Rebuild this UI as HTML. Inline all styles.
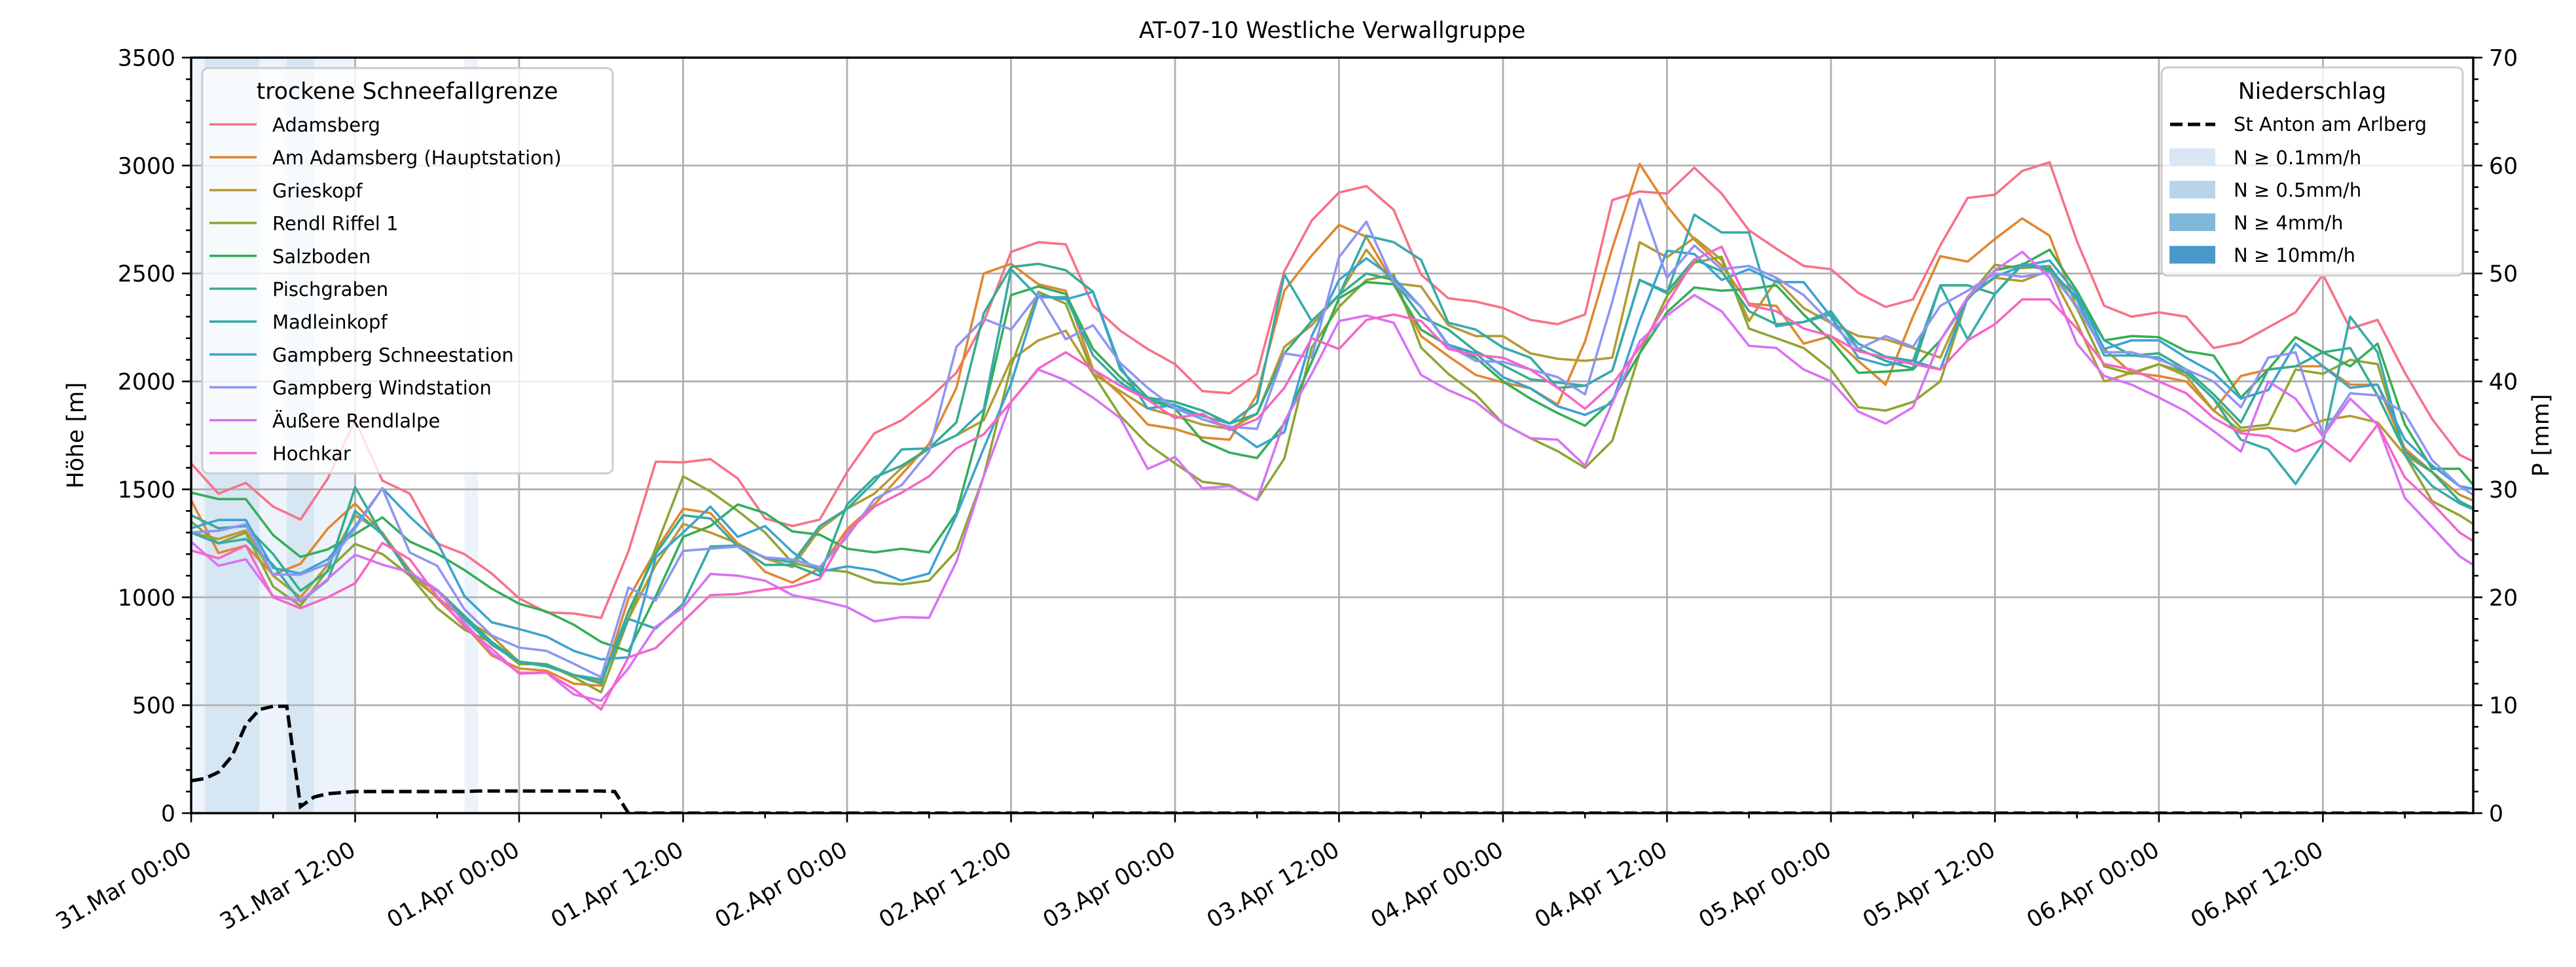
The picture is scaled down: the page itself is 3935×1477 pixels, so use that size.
<!DOCTYPE html>
<html><head><meta charset="utf-8"><title>AT-07-10 Westliche Verwallgruppe</title>
<style>html,body{margin:0;padding:0;background:#fff}svg{display:block;font-family:"DejaVu Sans","Liberation Sans",sans-serif}</style>
</head><body>
<svg id="chart" xmlns="http://www.w3.org/2000/svg" width="3935" height="1477" viewBox="0 0 3935 1477">
<rect x="0" y="0" width="3935" height="1477" fill="#fff"/>
<defs><clipPath id="plotclip"><rect x="292" y="88" width="3486" height="1154"/></clipPath></defs>
<g id="bands" clip-path="url(#plotclip)"></g>
<g id="grid"></g>
<g id="series" clip-path="url(#plotclip)"></g>
<g id="precip" clip-path="url(#plotclip)"></g>
<g id="axes"></g>
<g id="legends"></g>
</svg>
<script>
const NS="http://www.w3.org/2000/svg";
// ---- data ----
const STEP_H=2;
const seriesNames=["Adamsberg","Am Adamsberg (Hauptstation)","Grieskopf","Rendl Riffel 1","Salzboden","Pischgraben","Madleinkopf","Gampberg Schneestation","Gampberg Windstation","Äußere Rendlalpe","Hochkar"];
const seriesColors=["#f77189","#e0872f","#b69a32","#8ea532","#34ae57","#36ab8f","#37aaaa","#3ba3d0","#8e95f4","#d872f4","#f566c7"];
const adamsberg=[1620,1480,1530,1420,1360,1550,1820,1540,1480,1250,1200,1110,995,930,925,904,1213,1628,1625,1640,1550,1365,1330,1360,1580,1760,1820,1920,2040,2275,2600,2645,2635,2350,2235,2150,2080,1955,1945,2035,2510,2745,2875,2905,2795,2495,2385,2370,2340,2285,2265,2310,2840,2880,2870,2990,2870,2700,2615,2535,2520,2410,2345,2380,2630,2850,2865,2975,3015,2650,2350,2300,2320,2300,2155,2180,2250,2320,2495,2245,2285,2040,1825,1660,1600];
const amAdamsberg=[1450,1205,1240,1105,1155,1318,1434,1298,1125,995,870,730,670,660,600,590,995,1217,1410,1390,1250,1118,1068,1134,1315,1430,1570,1710,1970,2500,2545,2450,2420,2055,1940,1800,1780,1740,1730,1940,2420,2583,2725,2670,2455,2210,2117,2030,1995,1968,1893,2185,2617,3007,2813,2657,2536,2360,2350,2175,2210,2095,1985,2300,2580,2555,2660,2755,2675,2340,2150,2040,2025,2000,1865,2025,2055,2070,2070,1985,1985,1690,1580,1445,1380];
const grieskopf=[1300,1270,1310,1100,1000,1150,1380,1300,1100,1000,900,820,700,690,640,610,900,1150,1340,1300,1250,1180,1140,1315,1410,1480,1600,1690,1750,1820,2100,2190,2235,2035,1955,1875,1840,1800,1780,1850,2160,2260,2400,2610,2455,2440,2260,2210,2210,2130,2105,2095,2110,2645,2575,2665,2563,2280,2470,2340,2270,2210,2195,2155,2110,2390,2480,2465,2515,2270,2000,2040,2080,2025,1865,1770,1785,1770,1820,1840,1810,1660,1580,1475,1420];
const rendlRiffel=[1350,1250,1300,1050,960,1126,1247,1200,1100,950,850,790,690,690,630,560,900,1230,1560,1490,1400,1300,1160,1130,1118,1070,1060,1077,1215,1560,2070,2415,2360,2035,1840,1710,1620,1535,1520,1450,1643,2157,2345,2470,2495,2157,2035,1940,1805,1737,1677,1600,1725,2130,2395,2550,2577,2245,2200,2155,2055,1880,1865,1905,2000,2390,2540,2525,2535,2340,2070,2035,2080,2040,1920,1785,1800,2055,2035,2100,2080,1660,1445,1380,1300];
const salzboden=[1485,1455,1455,1288,1187,1222,1293,1370,1258,1202,1126,1040,970,934,873,793,750,1005,1280,1330,1430,1390,1305,1290,1225,1208,1225,1208,1390,1855,2400,2440,2405,2150,2020,1915,1875,1725,1670,1645,1805,2090,2385,2460,2450,2240,2165,2110,2000,1920,1853,1795,1913,2130,2320,2435,2420,2428,2445,2310,2190,2040,2045,2055,2190,2380,2515,2540,2610,2420,2190,2210,2205,2140,2120,1925,2055,2205,2135,2070,2175,1800,1595,1595,1445];
const pischgraben=[1380,1320,1330,1200,1030,1120,1510,1288,1116,1035,914,793,702,687,640,600,934,1202,1380,1365,1235,1150,1150,1100,1430,1555,1610,1690,1810,2315,2530,2545,2515,2415,2055,1925,1905,1865,1805,1850,2130,2280,2400,2500,2470,2300,2240,2140,2075,2010,1995,1980,2050,2470,2415,2565,2510,2325,2265,2275,2325,2150,2095,2060,2445,2445,2405,2540,2515,2390,2190,2120,2130,2055,1940,1810,2055,2070,2135,2155,1935,1675,1580,1445,1380];
const madleinkopf=[1300,1250,1270,1150,980,1080,1400,1290,1110,1030,900,780,700,680,640,620,900,855,970,1235,1240,1185,1160,1330,1410,1535,1685,1690,1750,1870,2520,2390,2390,2120,1995,1915,1890,1840,1805,1900,2495,2280,2400,2675,2645,2563,2272,2240,2157,2110,1970,1980,2050,2470,2408,2773,2690,2690,2255,2275,2310,2175,2115,2095,2445,2195,2405,2545,2525,2380,2120,2120,2110,2040,1920,1730,1685,1525,1715,2300,2135,1660,1515,1435,1380];
const gampbergSchnee=[1320,1358,1358,1136,1110,1176,1328,1505,1373,1257,1005,884,853,818,752,712,722,1185,1300,1420,1280,1330,1210,1118,1143,1125,1077,1110,1380,1690,1990,2400,2380,2415,2070,1875,1890,1825,1785,1695,1765,2210,2470,2570,2480,2345,2170,2130,2020,1968,1885,1845,1900,2280,2605,2590,2470,2520,2460,2460,2300,2110,2075,2095,2055,2390,2485,2535,2560,2405,2150,2190,2190,2110,2040,1920,1960,2175,2070,1970,1985,1730,1610,1515,1490];
const gampbergWind=[1300,1308,1338,1105,1105,1156,1318,1505,1207,1146,944,823,767,752,692,630,1045,985,1215,1225,1235,1185,1175,1140,1280,1455,1520,1675,2160,2290,2240,2405,2195,2260,2085,1970,1875,1825,1790,1780,2130,2110,2575,2740,2460,2345,2165,2095,2090,2055,2020,1940,2370,2845,2480,2630,2520,2535,2480,2400,2270,2150,2210,2160,2350,2420,2500,2485,2505,2350,2135,2135,2100,2055,2000,1880,2110,2135,1755,1945,1935,1850,1635,1515,1435];
const aeussereRendlalpe=[1257,1146,1176,1005,984,1085,1197,1151,1116,1035,883,742,651,651,550,520,671,863,953,1108,1100,1077,1010,985,955,888,908,905,1165,1560,1905,2055,2005,1925,1830,1595,1650,1505,1515,1450,1815,2035,2280,2305,2272,2030,1960,1905,1805,1737,1730,1610,1900,2185,2305,2400,2325,2165,2155,2055,2000,1860,1805,1880,2190,2390,2515,2600,2480,2175,2025,1985,1925,1860,1770,1675,2000,1920,1745,1920,1800,1460,1325,1190,1110];
const hochkar=[1217,1180,1240,1000,949,1000,1065,1252,1176,1005,863,762,646,651,575,480,722,765,888,1010,1015,1035,1050,1085,1300,1420,1485,1560,1690,1755,1905,2060,2135,2055,1980,1915,1830,1850,1775,1825,1970,2200,2150,2285,2310,2280,2150,2123,2110,2055,1970,1873,1987,2157,2360,2563,2624,2353,2325,2245,2210,2140,2110,2080,2055,2190,2265,2380,2380,2245,2080,2055,2000,1945,1830,1760,1745,1675,1730,1630,1800,1555,1435,1300,1220];
const seriesValues=[adamsberg,amAdamsberg,grieskopf,rendlRiffel,salzboden,pischgraben,madleinkopf,gampbergSchnee,gampbergWind,aeussereRendlalpe,hochkar];
// hourly precipitation St Anton (mm), hours 0..
const precipValues=[3.0,3.2,3.8,5.3,8.2,9.6,9.9,9.9,0.6,1.5,1.8,1.9,2.0,2.0,2.0,2.0,2.0,2.0,2.0,2.0,2.0,2.05,2.05,2.05,2.05,2.05,2.05,2.05,2.05,2.05,2.05,2.0,0,0,0,0,0,0,0,0,0,0,0,0,0,0,0,0,0,0,0,0,0,0,0,0,0,0,0,0,0,0,0,0,0,0,0,0,0,0,0,0,0,0,0,0,0,0,0,0,0,0,0,0,0,0,0,0,0,0,0,0,0,0,0,0,0,0,0,0,0,0,0,0,0,0,0,0,0,0,0,0,0,0,0,0,0,0,0,0,0,0,0,0,0,0,0,0,0,0,0,0,0,0,0,0,0,0,0,0,0,0,0,0,0,0,0,0,0,0,0,0,0,0,0,0,0,0,0,0,0,0,0,0,0,0,0,0];
// precipitation intensity bands: start hour, end hour, level
const bandStarts=[0,1,5,7,9,20];
const bandEnds=[1,5,7,9,12,21];
const bandLevels=[0,1,0,1,0,0];
const xTickLabels=["31.Mar 00:00","31.Mar 12:00","01.Apr 00:00","01.Apr 12:00","02.Apr 00:00","02.Apr 12:00","03.Apr 00:00","03.Apr 12:00","04.Apr 00:00","04.Apr 12:00","05.Apr 00:00","05.Apr 12:00","06.Apr 00:00","06.Apr 12:00"];
const yTicks=[0,500,1000,1500,2000,2500,3000,3500];
const y2Ticks=[0,10,20,30,40,50,60,70];
const precipLegendLabels=["N ≥ 0.1mm/h","N ≥ 0.5mm/h","N ≥ 4mm/h","N ≥ 10mm/h"];
const precipLegendColors=["#d9e7f4","#b7d4ea","#7fb7d8","#4a98c9"];
const bandColors=["#edf3fa","#d6e6f3"];

// ---- axes ----
const L=292,R=3778,T=88,B=1242,HMAX=167,YMAX=3500,PMAX=70;
const xs=h=>L+(R-L)*h/HMAX;
const ys=v=>B-(B-T)*v/YMAX;
const yp=v=>B-(B-T)*v/PMAX;
function mk(tag,attrs,parent,text){const e=document.createElementNS(NS,tag);for(const k in attrs)e.setAttribute(k,attrs[k]);if(text!==undefined)e.textContent=text;parent.appendChild(e);return e;}
const gB=document.getElementById('bands'),gG=document.getElementById('grid'),gS=document.getElementById('series'),gP=document.getElementById('precip'),gA=document.getElementById('axes'),gL=document.getElementById('legends');

bandStarts.forEach((s,i)=>{
  const r=mk('rect',{x:xs(s),y:T,width:xs(bandEnds[i])-xs(s),height:B-T,fill:bandColors[bandLevels[i]]},gB);
  
  
});
// grid
xTickLabels.forEach((t,i)=>{const x=xs(i*12);const l=mk('line',{x1:x,x2:x,y1:T,y2:B,stroke:'#b0b0b0','stroke-width':2.8},gG);
  
  });
yTicks.forEach(v=>{const y=ys(v);const l=mk('line',{x1:L,x2:R,y1:y,y2:y,stroke:'#b0b0b0','stroke-width':2.8},gG);
  
  });
// series
seriesValues.forEach((arr,si)=>{
  const d=arr.map((v,i)=>(i?'L':'M')+xs(i*STEP_H).toFixed(1)+','+ys(v).toFixed(1)).join(' ');
  const p=mk('path',{d:d,fill:'none',stroke:seriesColors[si],'stroke-width':3.6,'stroke-linejoin':'round'},gS);
  
  
});
// precip line
{const d=precipValues.map((v,i)=>(i?'L':'M')+xs(i).toFixed(1)+','+yp(v).toFixed(1)).join(' ');
 const p=mk('path',{d:d,fill:'none',stroke:'#000','stroke-width':5.2,'stroke-dasharray':'19,8'},gP);
 
 }
// spines
const fr=mk('rect',{x:L,y:T,width:R-L,height:B-T,fill:'none',stroke:'#000','stroke-width':3.4},gA);


// x ticks
for(let h=0;h<=HMAX;h+=6){const x=xs(h);const major=h%12===0;mk('line',{x1:x,x2:x,y1:B,y2:B+(major?14:8),stroke:'#000','stroke-width':2.6},gA);}
xTickLabels.forEach((t,i)=>{const x=xs(i*12)+3,y=1305;
  const tx=mk('text',{x:x,y:y,'text-anchor':'end','font-size':34.7,transform:`rotate(-30 ${x} ${y})`},gA,t);
  
  });
// y ticks left
for(let v=0;v<=YMAX;v+=100){const y=ys(v);const major=v%500===0;mk('line',{x1:L,x2:L-(major?14:8),y1:y,y2:y,stroke:'#000','stroke-width':2.6},gA);}
yTicks.forEach(v=>{const t=mk('text',{x:L-24,y:ys(v)+12.5,'text-anchor':'end','font-size':34.7},gA,String(v));
  
  });
// y ticks right
for(let v=0;v<=PMAX;v+=2){const y=yp(v);const major=v%10===0;mk('line',{x1:R,x2:R+(major?14:8),y1:y,y2:y,stroke:'#000','stroke-width':2.6},gA);}
y2Ticks.forEach(v=>{const t=mk('text',{x:R+24,y:yp(v)+12.5,'text-anchor':'start','font-size':34.7},gA,String(v));
  
  });
// titles
let t;
t=mk('text',{x:(L+R)/2,y:58,'text-anchor':'middle','font-size':34.7},gA,'AT-07-10 Westliche Verwallgruppe');


t=mk('text',{x:127,y:(T+B)/2,'text-anchor':'middle','font-size':34.7,transform:`rotate(-90 127 ${(T+B)/2})`},gA,'Höhe [m]');


t=mk('text',{x:3893,y:(T+B)/2,'text-anchor':'middle','font-size':34.7,transform:`rotate(-90 3893 ${(T+B)/2})`},gA,'P [mm]');


// legend 1
{const g=mk('g',{},gL);
 
 
 mk('rect',{x:309,y:104,width:627,height:619,rx:9,fill:'#fff','fill-opacity':0.8,stroke:'#cccccc','stroke-width':3},g);
 mk('text',{x:622,y:151,'text-anchor':'middle','font-size':34.7},g,'trockene Schneefallgrenze');
 seriesNames.forEach((n,i)=>{const y=190+i*50.2;
  const e=mk('g',{},g);
  
  
  mk('line',{x1:320,x2:392,y1:y,y2:y,stroke:seriesColors[i],'stroke-width':3.6},e);
  mk('text',{x:416,y:y+11,'font-size':29},e,n);});
}
// legend 2
{const g=mk('g',{},gL);
 
 
 mk('rect',{x:3302,y:103,width:460,height:318,rx:9,fill:'#fff','fill-opacity':0.8,stroke:'#cccccc','stroke-width':3},g);
 mk('text',{x:3532,y:151,'text-anchor':'middle','font-size':34.7},g,'Niederschlag');
 const e0=mk('g',{},g);
 
 
 mk('line',{x1:3315,x2:3384,y1:190,y2:190,stroke:'#000','stroke-width':5.2,'stroke-dasharray':'19,8'},e0);
 mk('text',{x:3412,y:200,'font-size':29},e0,'St Anton am Arlberg');
 precipLegendLabels.forEach((n,i)=>{const y=240+i*49.7;
  const e=mk('g',{},g);
  
  
  mk('rect',{x:3314,y:y-13.5,width:70,height:27,fill:precipLegendColors[i]},e);
  mk('text',{x:3412,y:y+11,'font-size':29},e,n);});
}
</script>
</body></html>
